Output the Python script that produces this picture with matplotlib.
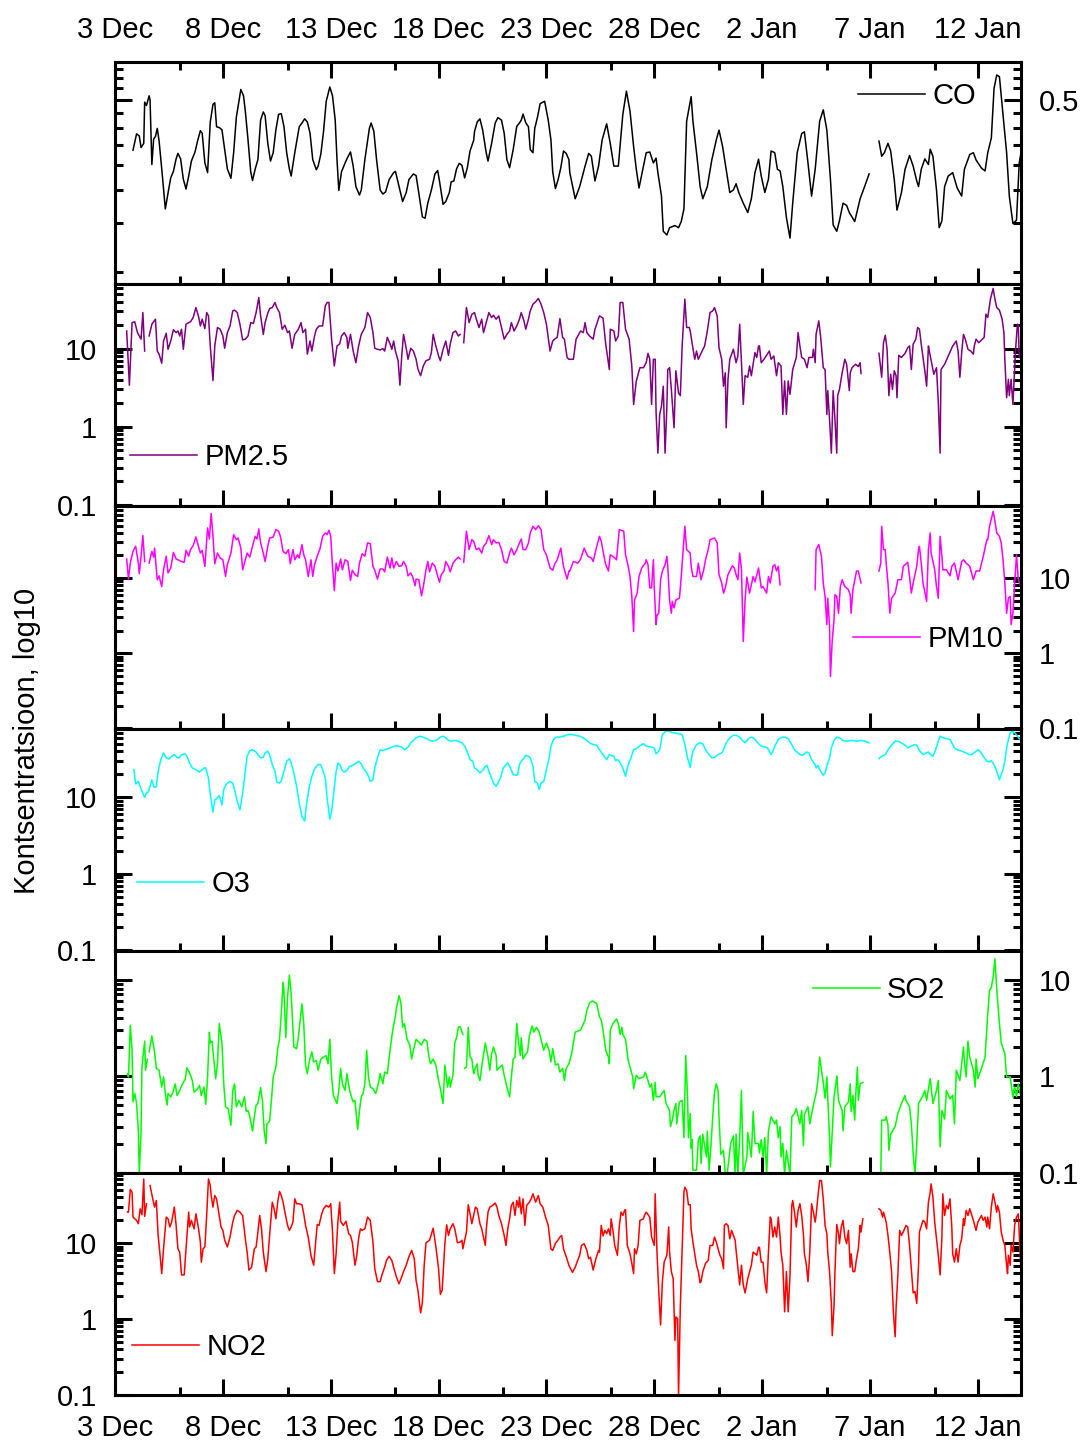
import numpy as np
import matplotlib
matplotlib.use('Agg')
import matplotlib.pyplot as plt
from matplotlib.ticker import FixedLocator, LogLocator, NullFormatter, FuncFormatter

nan = float('nan')

# x-telg: päevad alates 3. detsembrist 00:00
tick_days = [0, 5, 10, 15, 20, 25, 30, 35, 40]
tick_labels = ['3 Dec', '8 Dec', '13 Dec', '18 Dec', '23 Dec', '28 Dec', '2 Jan', '7 Jan', '12 Jan']
minor_days = [3, 8, 13, 18, 23, 28, 33, 38]

# andmed: (tund alates algusest, kontsentratsioon)
co = [(20,.312),(24,.364),(27,.357),(29,.32),(32,.333),(33,.49),(35,.475),(38,.52),(39,.5),(41,.273),
      (43,.347),(45,.355),(47,.383),(49,.342),(52,.262),(56,.18),(59,.209),(62,.241),(65,.256),(68,.288),
      (70,.303),(73,.288),(76,.238),(79,.217),(82,.245),(85,.282),(89,.307),(92,.342),(95,.375),(97,.366),
      (100,.277),(103,.253),(106,.407),(109,.48),(111,.487),(113,.389),(116,.386),(119,.378),(121,.335),(125,.262),
      (129,.24),(132,.305),(135,.425),(140,.552),(143,.52),(145,.45),(148,.344),(151,.255),(153,.235),(156,.262),
      (159,.286),(162,.414),(165,.447),(167,.432),(170,.333),(173,.282),(176,.305),(179,.378),(182,.437),(185,.44),
      (188,.389),(191,.305),(194,.262),(196,.245),(200,.305),(205,.389),(208,.403),(211,.419),(214,.407),(217,.366),
      (220,.286),(224,.26),(226,.269),(229,.301),(232,.372),(235,.494),(239,.565),(242,.52),(245,.414),(247,.286),
      (249,.214),(252,.255),(256,.277),(259,.293),(262,.307),(265,.269),(268,.222),(272,.205),(274,.215),(278,.286),
      (283,.383),(285,.403),(288,.372),(291,.286),(295,.215),(298,.207),(301,.211),(305,.237),(310,.253),(312,.256),
      (316,.222),(320,.193),(324,.21),(327,.237),(332,.25),(335,.246),(338,.209),(342,.167),(345,.165),(348,.19),
      (352,.215),(356,.25),(359,.258),(361,.234),(365,.188),(368,.193),(372,.21),(374,.232),(377,.234),(380,.262),
      (383,.276),(386,.271),(389,.241),(392,.265),(395,.31),(399,.342),(400,.372),(403,.407),(406,.419),(409,.378),
      (413,.305),(415,.282),(419,.333),(423,.403),(426,.424),(430,.414),(433,.366),(436,.286),(439,.265),(443,.314),
      (447,.391),(450,.403),(452,.414),(454,.438),(457,.404),(460,.389),(462,.314),(465,.305),(467,.383),(470,.425),
      (473,.483),(476,.49),(478,.494),(482,.414),(485,.344),(487,.255),(490,.218),(493,.237),(496,.265),(499,.31),
      (502,.303),(505,.286),(506,.253),(512,.198),(517,.222),(523,.269),(527,.303),(530,.295),(534,.234),(538,.269),
      (542,.344),(547,.4),(551,.333),(555,.269),(560,.269),(565,.437),(569,.543),(573,.45),(577,.323),(580,.261),
      (583,.219),(588,.269),(591,.305),(595,.307),(599,.277),(602,.29),(604,.253),(608,.203),(610,.146),(614,.141),
      (617,.151),(623,.154),(627,.151),(630,.16),(633,.18),(636,.41),(641,.516),(643,.41),(647,.305),(651,.222),
      (654,.198),(659,.222),(664,.285),(669,.344),(672,.377),(676,.323),(680,.261),(684,.21),(688,.215),(691,.228),
      (694,.21),(699,.19),(704,.174),(708,.198),(712,.253),(716,.287),(719,.245),(723,.21),(727,.238),(730,.31),
      (734,.305),(737,.261),(740,.257),(743,.222),(747,.166),(751,.137),(754,.19),(759,.305),(764,.365),(767,.371),
      (771,.277),(775,.203),(779,.261),(784,.41),(788,.456),(792,.377),(796,.237),(799,.155),(803,.146),(806,.161),
      (810,.19),(814,.186),(817,.174),(823,.16),(829,.198),(834,.222),(839,.25),(844,nan),
      (850,.34),(853,.295),(856,.305),(860,.333),(863,.31),(867,.237),(870,.178),(875,.21),(879,.261),(884,.297),
      (888,.269),(892,.234),(894,.222),(897,.261),(901,.288),(905,.273),(907,.315),(910,.295),(914,.215),(917,.151),
      (920,.161),(923,.222),(927,.245),(932,.253),(937,.219),(942,.203),(945,.261),(951,.3),(955,.305),(958,.285),
      (964,.264),(968,.257),(971,.305),(975,.35),(978,.557),(981,.632),(984,.622),(988,.436),(992,.305),(995,.203),
      (999,.157),(1003,.162),(1006,.277),(1008,.305)]

pm25 = [(13,16.8),(16,3.4),(19,21.5),(22,22),(25,16),(27,14.5),(29,13.2),(31,28.9),(33,9.3),(35,nan),
        (38,14.5),(41,20.5),(45,23.8),(47,9.3),(49,8.5),(52,6.5),(54,12.5),(57,15.7),(59,9.8),(62,12.5),
        (65,17.4),(68,16),(70,16.8),(72,14.5),(74,17.7),(76,9.8),(79,20.5),(82,21.5),(84,22),(87,25),
        (90,33.5),(93,25.6),(95,19.5),(97,23.8),(100,18),(102,28.9),(104,26.2),(106,10.8),(109,3.9),(111,10.8),
        (114,18.6),(117,17.7),(120,14.5),(122,10.1),(125,16),(128,19.5),(131,30.4),(133,31),(136,28.9),(139,20.5),
        (142,12.9),(145,13.2),(148,14.5),(151,21.5),(154,21),(157,28.9),(160,45),(162,26.2),(165,15.2),(167,21.5),
        (170,28.4),(172,32.5),(175,33.5),(178,38.9),(180,33.5),(183,28.9),(186,17.7),(189,19.9),(192,16),(194,16.8),
        (197,10.1),(200,15.2),(204,17.7),(207,21.5),(209,16),(212,17.7),(214,8.5),(217,12.5),(219,9.3),(222,14.5),
        (224,17.7),(227,19.5),(231,19.5),(234,35.2),(236,38.9),(238,38.9),(241,13.2),(244,6),(247,10.8),(250,11.5),
        (252,14.5),(255,16),(258,13.9),(259,10.1),(262,15.2),(265,9.3),(268,6.6),(271,10.8),(274,15.2),(278,18.6),
        (281,28.9),(284,25),(287,16),(289,10.1),(292,9.8),(295,9.6),(298,10),(300,9.3),(303,13.9),(306,11.5),
        (308,9.8),(310,12.5),(312,9.3),(315,7),(317,3.4),(319,8),(321,15.2),(324,10.1),(326,7.3),(329,10.1),
        (332,9.3),(335,7.3),(337,5.5),(340,4.5),(343,6),(346,7),(350,7.3),(352,8.9),(354,15.2),(357,10.8),
        (360,8.05),(362,7),(365,9.8),(368,12.5),(371,8.2),(373,11.5),(376,16),(379,16.8),(382,14.5),(384,15.2),
        (386,nan),
        (388,11.9),(391,33.5),(394,21.5),(397,27.4),(400,28.9),(402,23.8),(405,18.6),(408,23.8),(410,16),(413,21.5),
        (416,28.9),(419,25),(421,26.7),(424,23.8),(427,26.2),(430,18.6),(433,13.2),(436,15.2),(439,16.8),(441,21.5),
        (444,16.8),(447,19.5),(450,23.8),(452,28.9),(455,22.6),(457,17.7),(460,23.8),(462,30.4),(465,37),(468,39.7),
        (471,43.8),(474,37),(477,28.9),(480,20.5),(484,9.3),(487,12.5),(489,13.2),(492,13.9),(495,24.2),(498,13.9),
        (500,13.2),(503,7.7),(505,7.3),(506,7.3),(510,7.3),(513,13.2),(518,16.8),(521,16),(523,21.5),(525,16),
        (528,14.5),(532,13.2),(534,17.7),(539,26.2),(543,24.5),(546,11.3),(550,5.4),(551,17.7),(555,16.8),(557,12.5),
        (560,14.5),(562,38.9),(565,38.9),(568,17.7),(572,13.2),(575,6),(577,1.93),(580,3.85),(584,5.7),(588,5.7),
        (591,6.6),(593,8.7),(595,7.3),(597,1.93),(599,7.3),(601,7.3),(602,1.51),(604,0.46),(606,1.44),(608,1.84),
        (610,3.3),(612,0.46),(614,1.84),(615,5.4),(617,5.7),(619,3.0),(622,0.97),(624,5.2),(627,2.7),(629,2.5),
        (631,10.8),(634,42.9),(636,18.6),(639,18.6),(640,16.8),(642,11.9),(645,7.3),(647,9.3),(649,7.3),(652,8.7),
        (656,10.8),(659,16.8),(662,28.9),(665,30.4),(667,33.5),(670,26.2),(672,10.3),(675,7.3),(677,3.3),(679,4.9),
        (680,0.97),(682,4.05),(684,7.3),(688,9.8),(691,6.6),(693,8.05),(695,20.5),(697,6.6),(699,1.93),(701,4.5),
        (704,4.3),(706,6),(708,4.5),(712,8.9),(714,7.7),(716,10.8),(717,10.8),(719,6.6),(722,7.3),(727,8.9),
        (728,9.3),(730,7.3),(733,8.05),(736,4.5),(738,6.6),(741,6),(743,1.44),(745,3.85),(747,1.44),(749,3.85),
        (751,2.6),(754,5.4),(758,7.7),(760,16),(762,10.8),(764,7.7),(767,7.3),(770,5.7),(772,7.7),(776,7.7),
        (777,9.8),(779,6.6),(780,15.2),(783,22.6),(785,14.5),(788,5.7),(790,5.4),(792,1.44),(793,2.9),(795,1.24),
        (797,0.46),(799,2.9),(801,1.24),(803,0.46),(804,2.5),(806,3.0),(809,4.9),(812,7.3),(814,6.3),(817,2.9),
        (818,4.9),(820,5.7),(824,6.3),(827,5.9),(829,6.6),(830,4.8),(840,nan),
        (850,8.7),(853,4.3),(855,11.9),(857,14.8),(859,9.8),(861,2.5),(863,4.7),(865,3.0),(867,5.2),(869,4.5),
        (870,2.35),(872,8.2),(875,7.7),(879,8.7),(882,10.3),(884,10.8),(886,5.4),(888,11.4),(891,13.2),(893,18.6),
        (895,17.7),(897,11.4),(901,5.2),(903,3.3),(905,10.8),(906,9.3),(911,4.7),(914,5.7),(916,2.04),(918,0.46),
        (919,5.4),(923,6.3),(928,8.5),(932,10.8),(936,12.5),(938,9.3),(940,4.3),(942,8.9),(944,15.2),(946,13.2),
        (949,9.8),(952,9.3),(955,8.5),(956,10.8),(958,13.2),(961,11.9),(967,13.9),(969,27.6),(971,25),(974,42.9),
        (977,58.8),(979,42.9),(981,33.5),(984,31),(987,23.8),(989,16),(990,7.3),(992,2.35),(994,4.05),(995,2.5),
        (997,4.05),(999,1.93),(1002,9.8),(1004,20.5),(1005,19.5),(1006,8.05),(1008,7.3)]

pm10 = [(13,17.9),(15,9.7),(17,15.8),(20,22.6),(23,26.4),(26,15.8),(27,11.4),(29,19.5),(31,36.7),(33,16.6),(35,nan),
        (38,15.8),(41,22.6),(43,19),(44,25),(47,9.5),(49,10.7),(52,7.7),(54,12.9),(57,19.5),(59,11.7),
        (62,13.6),(65,21.9),(68,17.9),(70,17.5),(74,16.6),(77,16.2),(79,23.4),(82,19.5),(84,23.9),(87,27),
        (90,35.2),(92,28.7),(95,21.5),(97,23.4),(100,14.3),(103,46.4),(105,33.1),(107,72),(109,35.9),(111,15.5),
        (114,21.5),(117,18.5),(120,17.5),(123,10.5),(125,15.1),(129,21.5),(132,37.8),(135,32.4),(137,34.1),(140,25),
        (142,12.9),(145,17.5),(147,21.5),(150,19),(152,23.9),(156,35.9),(158,33.1),(160,45),(162,29.3),(165,21.5),
        (167,16.6),(170,26.4),(172,34.1),(176,35.2),(179,44.1),(182,42),(184,35.9),(187,22.6),(190,21.1),(193,23.9),
        (195,15.5),(198,23.9),(200,17.5),(203,20.4),(205,18.5),(208,27.9),(210,20.4),(212,17.5),(215,10.5),(218,17.5),
        (220,10.5),(222,15.1),(225,19.5),(228,24.4),(231,35.9),(234,39.8),(236,37.8),(238,43.2),(240,35.9),(242,14.3),
        (244,6.8),(246,15.8),(248,12.4),(251,17.9),(253,12.9),(256,17.5),(259,16.6),(262,9.3),(264,12.7),(267,11.1),
        (270,10.5),(272,15.8),(275,21.1),(278,19.5),(281,29.3),(284,28.7),(287,14.3),(289,12.7),(292,9.7),(295,13.2),
        (298,13.2),(300,12.1),(303,19),(306,13.6),(308,18.5),(310,13.6),(313,16.6),(316,14.3),(319,14.6),(321,16.6),
        (324,14.3),(326,10.7),(329,11.7),(331,10.5),(334,7.9),(335,9.7),(338,9.5),(341,5.8),(343,7.6),(346,12.9),
        (348,16.6),(350,12.1),(353,15.8),(356,14.3),(358,11.7),(361,8.8),(363,11.1),(366,12.4),(368,16.6),(371,14.3),
        (373,12.1),(376,15.8),(379,17.5),(382,19),(384,17.9),(386,nan),
        (388,16.2),(391,42),(394,23.9),(397,32.4),(399,30.9),(402,23.9),(405,25),(408,21.5),(410,26.4),(413,29.3),
        (416,36.7),(419,27.9),(421,32.4),(424,29.3),(427,29.8),(430,23.9),(433,16.6),(436,15.8),(439,21.5),(441,25),
        (444,20.4),(447,23.9),(450,29.3),(452,33.1),(454,23.9),(457,23.9),(460,29.3),(462,39.8),(465,48.8),(468,44.1),
        (471,49.8),(474,44.1),(477,23.9),(480,20.4),(484,13.6),(487,12.7),(489,15.1),(492,17.5),(496,25),(499,14.3),
        (500,12.9),(503,9.7),(505,12.4),(506,12.4),(510,16.6),(515,15.8),(518,17.9),(522,25),(526,19.5),(530,18.5),
        (532,16.6),(536,26.4),(539,35.9),(541,30.9),(544,19.5),(546,15.1),(549,12.4),(551,20.4),(555,19),(558,17.5),
        (561,44.1),(566,42),(568,20.4),(571,14.3),(573,10.5),(575,5.7),(577,1.94),(578,5.1),(581,6.3),(583,10.5),
        (586,13.6),(590,15.8),(591,17.5),(593,15.1),(595,7.4),(597,7.4),(599,17.5),(600,7.4),(602,2.4),(603,3.2),
        (605,3.4),(607,9.5),(609,12.4),(612,15.1),(614,19.5),(615,14.3),(617,5.1),(619,3.4),(620,4.9),(622,4.0),
        (624,5.1),(628,5.4),(630,10.5),(634,48.8),(636,23.9),(640,21.5),(641,14.3),(643,10.5),(647,10.5),(649,15.8),
        (652,9.5),(655,12.9),(657,17.5),(660,23.9),(662,32.4),(667,34.1),(670,29.3),(672,11.1),(675,8.6),(677,6.3),
        (679,7.4),(682,11.1),(687,14.6),(689,13.6),(691,11.1),(693,9.5),(695,21.5),(697,12.9),(699,1.43),(701,5.1),
        (703,10.3),(706,6.3),(710,10.5),(712,8.9),(716,13.6),(719,7.4),(721,7.7),(725,6.3),(727,10.5),(729,8.6),
        (732,14.3),(734,15.1),(736,12.4),(738,14.3),(740,8.1),(760,nan),
        (779,7.0),(780,23.9),(783,27.9),(786,19.5),(788,8.6),(790,5.7),(792,2.4),(793,5.4),(795,2.3),(796,0.49),
        (798,1.5),(800,2.8),(801,6.0),(803,5.7),(805,3.4),(807,7.7),(809,9.5),(812,7.7),(816,7.0),(818,6.0),
        (819,3.4),(821,7.0),(825,12.4),(827,12.4),(830,8.6),(840,nan),
        (850,12.4),(852,15.8),(853,48.8),(855,23.9),(857,23.9),(858,15.8),(860,8.6),(862,3.4),(864,5.4),(868,6.3),
        (871,9.5),(875,9.5),(877,14.3),(882,16.2),(884,10.5),(886,6.3),(888,8.6),(892,14.3),(894,23.9),(895,26.4),
        (897,15.8),(899,8.6),(903,4.9),(905,23.9),(907,39.8),(908,21.5),(912,12.9),(914,7.7),(916,5.4),(918,35.9),
        (920,19.5),(921,12.9),(925,12.9),(929,10.7),(931,14.3),(934,15.8),(938,9.5),(942,16.6),(944,17.5),(947,15.8),
        (951,14.3),(955,9.5),(958,12.4),(962,12.4),(966,19.5),(970,32.4),(971,32.4),(973,48.8),(977,77),(979,57),
        (981,39.8),(984,35.9),(986,29.3),(988,17.5),(990,8.6),(992,3.4),(994,5.4),(996,5.7),(997,2.4),(999,3.4),
        (1001,8.6),(1003,20.4),(1005,9.5),(1008,7.7)]

o3 = [(21,23.1),(23,15),(26,16.2),(28,14),(30,12),(33,10),(35,11.4),(37,11.8),(39,14),(41,17),
      (43,13.7),(46,13.7),(48,22),(51,31.3),(54,38.3),(57,32.9),(60,31.8),(63,34.6),(66,36.4),(69,33.5),
      (71,32.9),(74,36.4),(78,37.2),(80,34.6),(83,28.3),(86,24.3),(90,23.1),(94,21.5),(96,22.5),(99,24.3),
      (101,24.3),(104,17.9),(106,11),(109,6.4),(111,9.3),(113,9.6),(116,10.6),(119,8),(121,12.7),(124,15),
      (128,16.2),(131,15.4),(133,12.7),(136,8.9),(139,6.9),(142,11.4),(145,22),(147,34.6),(150,41.1),(153,42.1),
      (157,39.4),(159,36.4),(162,32.9),(165,33.5),(167,38.3),(170,40.3),(172,36.4),(175,26.9),(178,22),(180,15.9),
      (183,15.4),(185,16.5),(188,22),(191,29.8),(194,32.2),(196,28.3),(199,20.9),(202,14),(205,8.4),(208,5.6),
      (211,4.9),(213,8),(216,13.3),(219,18.9),(222,23.8),(226,26.9),(229,26.9),(231,23.1),(234,17.9),(236,9.8),
      (239,5.2),(241,6.5),(244,13.3),(246,22),(248,28.3),(250,26.9),(253,22.5),(255,21.5),(258,22.5),(261,25.6),
      (264,26.1),(267,27.5),(271,29.8),(274,27.5),(276,24.3),(279,22),(282,18.9),(284,16.2),(287,17.1),(289,24.3),
      (292,32.9),(295,42.1),(298,41.1),(300,42.1),(304,43.6),(308,45.6),(311,47.1),(315,47.1),(319,45.6),(322,42.1),
      (326,45.6),(329,51.8),(332,55.8),(335,60.4),(339,63.5),(343,61.6),(347,59),(350,55.8),(354,54.6),(357,55.8),
      (360,59),(362,61.6),(365,63.5),(368,60.4),(371,55.8),(374,54.6),(378,55.8),(382,54.6),(386,52),(389,47.1),
      (391,42.1),(393,36.4),(395,31.3),(398,29.8),(400,24.3),(403,23.1),(406,20.9),(409,22.5),(412,25.6),(414,26.3),
      (416,22),(419,17.9),(421,15.4),(424,14),(426,15.4),(429,18.3),(432,24.3),(435,26.9),(437,28.3),(440,24.3),
      (443,19.9),(446,19.5),(448,19.9),(450,26.9),(452,29.8),(455,32.9),(457,35.6),(460,34.6),(462,32.9),(465,25.6),
      (467,16.2),(470,15.4),(472,12.7),(474,15.4),(477,16.2),(480,23.1),(483,32.9),(485,47.1),(488,57.4),(491,61.6),
      (495,61.6),(499,63.5),(502,65.3),(505,66.8),(508,66.8),(512,65.3),(517,63.5),(521,60.4),(525,55.8),(528,51.8),
      (532,49.3),(536,48.3),(539,42.1),(543,36.4),(547,31.3),(550,36.4),(552,35.6),(555,34.6),(557,30.3),(559,31.3),
      (561,29.8),(563,26.9),(565,24.3),(568,18.9),(571,26.9),(574,32.9),(577,42.1),(580,43.6),(585,48.3),(588,50.5),
      (591,47.1),(597,45.6),(600,44.6),(602,37.2),(604,39.4),(606,42.1),(609,66.8),(613,73.8),(615,73.8),(621,70.4),
      (627,68.4),(631,66.8),(634,49.3),(637,32.9),(640,24.8),(641,31.3),(643,40.3),(647,49.3),(651,51.8),(654,50.5),
      (657,42.1),(661,36.4),(664,32.9),(667,33.5),(671,36.4),(675,38.3),(677,42.1),(680,51.8),(684,60.4),(688,65.3),
      (691,65.3),(695,61.6),(698,55.8),(701,51.8),(703,55.8),(706,60.4),(709,61.6),(712,57.4),(716,50.5),(719,47.1),
      (723,45.6),(726,44.6),(729,38.3),(730,36.4),(732,40.3),(735,49.3),(738,57.4),(742,61.6),(745,61.6),(749,59),
      (753,49.3),(756,42.1),(760,38.3),(762,36.4),(765,35.6),(767,37.2),(769,39.4),(772,38.3),(775,31.3),(779,26.9),
      (780,24.3),(782,26.1),(785,22),(788,19.5),(790,20.9),(792,25.6),(795,32.9),(797,44.6),(800,55.8),(803,61.6),
      (806,60.4),(810,55.8),(814,54.6),(819,55.8),(825,54.6),(830,55.8),(834,54.6),(839,51.8),(845,nan),
      (850,32.2),(853,34.6),(857,36.4),(860,42.1),(864,48.3),(868,54.6),(871,54.6),(875,51.8),(879,48.3),(882,44.6),
      (886,47.1),(890,49.3),(892,48.3),(895,41.1),(899,36.4),(903,38.3),(905,39.4),(907,36.4),(910,34.6),(913,42.1),
      (916,54.6),(918,63.5),(921,60.4),(925,59),(929,57.4),(932,49.3),(934,44.6),(937,42.1),(940,41.1),(944,39.4),
      (947,38.3),(950,36.4),(953,36.4),(957,39.4),(960,42.1),(963,39.4),(966,34.6),(970,29.8),(973,29.2),(975,30.3),
      (978,26.9),(981,22),(984,17.1),(986,19.9),(988,23.1),(990,29.8),(992,44.6),(994,57.4),(996,70.4),(998,73.8),
      (1001,70.4),(1004,63.5),(1007,57.4),(1008,53.4)]

so2 = [(14,1.06),(15,0.98),(17,3.35),(19,1.85),(20,0.54),(22,0.66),(24,0.52),(26,0.27),(27,0.098),(29,0.27),
       (30,1.24),(33,2.3),(34,1.15),(36,1.5),(37,nan),
       (38,1.78),(41,2.6),(44,1.78),(46,1.2),(49,1.15),(52,0.77),(54,0.98),(56,0.66),(58,0.5),(59,0.66),
       (62,0.61),(64,0.66),(67,0.83),(69,0.63),(72,0.71),(75,0.83),(78,0.92),(80,1.22),(83,1.08),(86,0.9),
       (88,0.68),(92,0.74),(94,0.8),(96,0.63),(99,0.77),(101,0.51),(103,0.98),(105,2.85),(106,2.2),(108,2.3),
       (110,1.45),(112,0.94),(114,1.34),(116,3.5),(119,2.2),(121,0.83),(123,0.48),(126,0.46),(129,0.31),(131,0.71),
       (133,0.83),(135,0.48),(138,0.56),(141,0.48),(144,0.61),(146,0.43),(148,0.44),(150,0.38),(153,0.27),(155,0.38),
       (157,0.5),(159,0.52),(162,0.76),(164,0.56),(166,0.27),(168,0.2),(169,0.32),(172,0.34),(174,0.56),(176,0.98),
       (179,1.24),(181,1.92),(183,2.4),(185,4.4),(187,9.3),(188,7.7),(190,2.5),(192,6.6),(194,11.1),(196,7.1),
       (199,2.0),(202,1.92),(204,2.5),(206,3.8),(208,5.6),(210,3.5),(212,1.3),(214,1.06),(216,1.4),(219,1.78),
       (221,1.4),(224,1.45),(226,1.15),(229,1.5),(232,1.57),(235,1.63),(237,1.34),(239,2.4),(241,0.98),(243,0.63),
       (247,0.52),(249,0.71),(251,1.2),(253,0.83),(256,0.71),(258,1.06),(261,0.71),(263,0.61),(265,0.54),(267,0.56),
       (270,0.28),(272,0.44),(274,0.61),(276,0.66),(278,0.83),(280,1.85),(282,0.98),(284,0.77),(287,0.74),(290,0.66),
       (293,0.83),(295,1.06),(298,0.83),(300,1.1),(303,1.06),(306,1.85),(309,3.0),(312,4.2),(313,5.0),(316,6.8),
       (318,5.8),(320,3.2),(322,3.5),(325,2.4),(328,2.1),(330,1.5),(332,1.85),(335,2.4),(338,2.25),(341,2.1),
       (344,2.4),(347,2.3),(349,1.63),(351,1.34),(354,1.5),(357,1.3),(360,0.9),(362,0.74),(365,0.52),(367,1.3),
       (370,0.77),(372,0.98),(373,0.77),(376,1.02),(378,2.2),(380,2.5),(382,3.2),(384,3.25),(387,2.7),(388,nan),
       (389,1.2),(391,1.24),(393,3.2),(395,1.57),(397,1.5),(399,1.06),(400,1.15),(403,1.34),(404,1.02),(406,0.9),
       (409,1.45),(412,2.2),(415,1.57),(417,1.15),(419,1.7),(421,2.0),(424,1.63),(425,1.15),(428,1.24),(431,1.3),
       (433,1.02),(436,0.77),(439,0.61),(441,0.98),(443,1.5),(445,1.57),(447,3.5),(449,2.2),(451,1.63),(452,2.5),
       (454,1.5),(456,1.63),(459,1.78),(461,2.6),(464,3.3),(466,2.85),(469,3.2),(472,2.85),(474,2.4),(477,1.85),
       (480,2.2),(483,1.85),(485,1.4),(487,1.92),(490,1.3),(493,1.34),(495,1.1),(498,1.2),(500,0.9),(502,1.2),
       (505,1.34),(508,1.7),(512,2.85),(518,3.0),(523,3.8),(525,4.8),(528,5.7),(531,6.0),(534,5.8),(536,5.6),
       (539,4.1),(541,3.8),(543,3.0),(546,1.85),(549,1.57),(550,1.34),(551,3.0),(554,3.5),(558,3.9),(560,3.5),
       (562,2.7),(564,3.2),(565,2.7),(568,2.4),(571,1.45),(574,1.15),(576,0.98),(577,0.74),(580,1.02),(583,0.94),
       (588,0.98),(590,1.1),(593,0.9),(595,0.77),(597,0.83),(599,0.56),(601,0.86),(602,0.61),(606,0.61),(611,0.71),
       (613,0.52),(617,0.44),(618,0.3),(620,0.35),(622,0.44),(624,0.52),(625,0.32),(628,0.54),(631,0.56),(633,0.23),
       (635,1.63),(637,0.61),(638,0.23),(640,0.41),(641,0.18),(642,0.22),(643,0.106),(647,0.106),(649,0.22),(651,0.24),
       (652,0.124),(654,0.25),(658,0.145),(659,0.27),(661,0.106),(663,0.185),(665,0.38),(667,0.68),(669,0.83),(671,0.71),
       (672,0.38),(674,0.155),(677,0.17),(679,0.095),(681,0.095),(685,0.2),(688,0.24),(690,0.095),(691,0.25),(693,0.095),
       (695,0.23),(697,0.71),(699,0.095),(703,0.145),(704,0.26),(708,0.145),(710,0.43),(712,0.2),(716,0.2),(717,0.16),
       (719,0.22),(721,0.145),(723,0.23),(725,0.095),(727,0.27),(730,0.38),(734,0.32),(736,0.35),(738,0.23),(740,0.3),
       (741,0.145),(743,0.2),(745,0.095),(747,0.17),(751,0.095),(753,0.38),(756,0.41),(758,0.46),(762,0.32),(764,0.44),
       (766,0.19),(767,0.4),(771,0.48),(773,0.32),(777,0.5),(780,0.66),(782,0.9),(784,1.57),(786,1.15),(788,0.86),
       (790,0.59),(792,0.98),(793,0.59),(795,0.23),(796,0.115),(798,0.27),(800,0.61),(802,0.83),(803,1.0),(805,0.56),
       (809,0.44),(810,0.27),(812,0.48),(816,0.54),(818,0.83),(819,0.43),(821,0.63),(823,0.35),(824,0.61),(826,1.24),
       (827,0.56),(829,0.83),(832,0.86),(840,nan),
       (852,0.095),(853,0.35),(857,0.35),(858,0.38),(860,0.31),(861,0.17),(863,0.25),(868,0.3),(871,0.41),(875,0.52),
       (879,0.63),(880,0.56),(884,0.48),(886,0.32),(888,0.16),(890,0.095),(892,0.2),(894,0.52),(899,0.63),(901,0.71),
       (903,0.56),(905,0.74),(907,0.94),(910,0.52),(914,0.71),(916,0.9),(918,0.185),(920,0.44),(923,0.36),(925,0.71),
       (929,0.58),(932,0.63),(934,0.32),(936,1.15),(940,0.9),(942,1.34),(944,2.0),(945,1.45),(947,0.98),(949,2.3),
       (951,1.57),(955,1.15),(957,0.77),(958,1.5),(960,0.94),(964,1.2),(968,1.57),(970,3.2),(971,4.4),(973,7.7),
       (975,8.3),(977,10.6),(979,16.4),(981,8.0),(982,6.1),(984,3.5),(986,2.2),(990,1.7),(992,0.98),(996,0.98),
       (999,0.61),(1001,0.77),(1003,0.61),(1005,0.83),(1008,0.61)]

no2 = [(14,25.6),(15,25.6),(17,50.9),(19,46.9),(20,22),(22,20.9),(24,19.9),(26,18),(28,28.3),(30,23.6),
       (32,70.1),(33,22.5),(35,33),(37,nan),
       (39,57.4),(42,38.3),(44,29.8),(46,36.4),(48,12.6),(50,7.2),(52,3.95),(54,8.4),(57,22),(59,20.9),
       (61,16.3),(63,18.9),(66,29.8),(68,17.1),(70,8.4),(72,7.6),(74,3.8),(77,3.8),(79,8.4),(82,25.6),
       (83,16.3),(85,19.9),(88,15.4),(90,24.3),(93,15.4),(95,10.3),(96,5.6),(98,8.4),(100,8.9),(102,23.1),
       (104,70.1),(106,57.4),(107,42.4),(109,29.8),(111,42.4),(113,38.3),(115,27),(118,16.3),(120,14.7),(122,11),
       (125,8.9),(128,12),(131,18.9),(133,23.1),(136,27),(139,25.6),(142,23.1),(145,11.4),(147,7.6),(149,4.4),
       (152,4.8),(155,8.4),(157,8.9),(159,14),(161,23.1),(163,15.4),(165,7.6),(168,4.2),(170,6.2),(172,12.6),
       (175,34.6),(177,28.3),(179,20.9),(181,34.6),(183,47.9),(185,42.4),(187,34.6),(189,25.6),(192,17.1),(194,14.7),
       (196,16.3),(198,18.9),(200,38.3),(202,33),(205,33),(208,32),(210,24.3),(212,17.1),(215,12),(218,6.9),
       (221,5.1),(222,6.9),(225,17.6),(227,17.1),(230,24.3),(232,28.3),(235,31.3),(238,29.8),(240,33),(242,14),
       (244,3.95),(246,7.2),(248,19.4),(250,34.6),(251,19.4),(254,17.1),(257,19.4),(260,13.3),(262,12.6),(264,10.3),
       (267,5.1),(269,6.9),(271,11.4),(273,15.4),(275,14.7),(278,15.4),(281,22),(284,19.9),(287,10.3),(289,4.6),
       (292,3.1),(295,3.1),(297,3.8),(300,4.8),(302,5.9),(305,6.7),(308,5.9),(310,4.8),(313,3.6),(316,2.9),
       (319,3.6),(321,4.2),(324,5.1),(327,6.6),(330,8),(333,6.2),(335,3.2),(337,2.4),(340,1.2),(342,1.65),
       (344,5.1),(346,10.1),(348,10.5),(350,10.9),(352,13.1),(354,15.7),(357,8.9),(360,4.6),(362,2.1),(364,2.4),
       (366,6.2),(367,9.8),(369,17.4),(371,12.6),(373,15.4),(376,18),(378,15.4),(381,10.1),(384,10.3),(386,10.9),
       (387,8.4),(391,14),(393,32),(395,24.3),(397,18),(399,23.1),(401,29.8),(403,28.3),(406,18),(408,15.4),
       (410,12),(412,9.3),(413,14.7),(415,25.6),(417,29.8),(420,31.3),(423,33.7),(425,29.8),(427,23.1),(430,18),
       (433,12.6),(435,9.3),(437,15.4),(439,20.9),(441,31.3),(443,34.6),(445,23.1),(447,36.4),(449,29.8),(450,40.4),
       (452,24.3),(454,38.3),(456,17.1),(458,31.3),(461,34.6),(463,38.3),(465,44.6),(468,34.6),(471,42.4),(473,33),
       (476,29.8),(479,22),(482,17.1),(485,8.4),(487,8),(490,9.9),(493,11),(495,12),(497,12.6),(499,8.4),
       (502,6.6),(505,5.1),(506,4.8),(509,4.1),(512,4.8),(514,5.6),(517,6.9),(519,9.3),(522,9.8),(525,8),
       (527,6.2),(529,6.5),(532,4.4),(535,6.2),(538,8),(539,7.6),(541,17.1),(543,12.4),(545,14.7),(547,13.3),
       (549,15.4),(551,12.6),(552,20.9),(554,14.7),(556,9.3),(559,6.9),(561,16.3),(563,25.6),(565,23.1),(567,27),
       (568,27.6),(570,9.3),(573,7.2),(575,5.4),(577,3.95),(578,8.4),(580,7.2),(582,9.3),(584,19.9),(588,20.9),
       (589,23.1),(591,25.6),(595,22),(597,12),(600,9.3),(601,44.6),(603,7.6),(605,2.3),(607,0.83),(609,3.1),
       (611,5.6),(614,6.9),(616,16.3),(617,7.6),(619,4.2),(621,3.4),(623,0.52),(624,1.06),(626,1.0),(627,0.099),
       (629,1.51),(631,8.4),(633,46.9),(634,54.6),(636,49.4),(638,32),(640,32),(641,15.4),(643,10.3),(645,7.2),
       (647,5.1),(649,4.2),(651,3.0),(652,3.1),(654,4.2),(657,5.4),(660,5.9),(662,9.3),(665,9.3),(667,12),
       (669,10.3),(673,6.9),(675,6.2),(677,4.6),(678,17.1),(680,18),(682,17.1),(684,11.4),(686,14.7),(690,10.9),
       (691,8),(693,4.8),(695,2.8),(697,5.1),(699,2.8),(701,2.2),(704,3.4),(708,5.1),(710,7.6),(714,6.9),
       (716,8.8),(717,8.8),(719,5.6),(721,5.6),(723,3.1),(725,2.2),(727,7.6),(729,22),(730,20.9),(732,12),
       (734,16.3),(736,12),(738,22),(740,12),(741,7.6),(743,5.1),(745,1.24),(747,4.2),(749,1.24),(751,3.8),
       (753,31.3),(754,36.4),(756,25.6),(758,16.3),(760,27),(762,33),(764,23.1),(766,12.6),(767,7.2),(769,5.4),
       (771,3.1),(773,7.6),(775,33),(777,25.6),(779,18.9),(780,23.1),(782,40.4),(784,66.7),(786,66.7),(788,38.3),
       (790,17.1),(792,13.3),(793,7.6),(795,4.2),(797,1.6),(798,0.6),(800,1.51),(801,4.2),(803,17.6),(805,13.3),
       (806,9.8),(808,16.3),(810,19.9),(812,12),(814,9.8),(816,14.7),(818,4.8),(819,7.2),(821,4.2),(823,4.2),
       (825,6.2),(827,8.4),(829,17.1),(830,14),(832,20.9),(840,nan),
       (850,28.3),(852,27),(854,22),(855,25.6),(858,18.9),(860,12.6),(862,7.6),(864,4.2),(866,1.24),(868,0.58),
       (869,1.37),(871,3.8),(873,14.7),(875,12.6),(877,14),(880,17.1),(882,16.3),(884,9.3),(886,4.6),(888,2.2),
       (890,2.3),(892,1.6),(894,5.1),(895,14),(899,19.9),(901,18.9),(903,15.4),(905,34.6),(907,46.9),(908,60.3),
       (910,40.4),(912,18.9),(914,11.4),(916,6.9),(918,3.8),(920,12),(921,44.6),(923,23.1),(925,31.3),(927,28.3),
       (929,38.3),(931,16.3),(932,7.2),(934,5.6),(936,8.4),(938,5.6),(940,9.3),(942,11.4),(944,20.9),(945,17.1),
       (947,27),(949,23.1),(951,28.3),(955,19.9),(958,14.7),(960,18.9),(964,23.1),(966,19.9),(968,22),(970,16.3),
       (971,22),(973,15.4),(975,29.8),(977,44.6),(979,34.6),(981,25.6),(982,31.3),(984,25.6),(986,14),(988,10.9),
       (990,9.3),(992,5.1),(993,3.95),(994,6.9),(996,5.1),(997,9.3),(999,7.6),(1001,17.6),(1003,22),(1005,24.3),
       (1007,7.6),(1008,4.2)]

plt.rcParams['font.family'] = ['Liberation Sans', 'DejaVu Sans']
plt.rcParams['font.size'] = 21

# nimi, andmed, värv, y-piirid, siltide pool, legendi asukoht
panels = [
    ('CO', co, 'black', (0.0889, 0.714), 'right', (0.820, 0.847)),
    ('PM2.5', pm25, '#800080', (0.096, 66.7), 'left', (0.0166, 0.22)),
    ('PM10', pm10, '#ff00ff', (0.0995, 90), 'right', (0.815, 0.402)),
    ('O3', o3, '#00ffff', (0.098, 80), 'left', (0.0243, 0.301)),
    ('SO2', so2, '#00ff00', (0.0995, 19.9), 'right', (0.770, 0.823)),
    ('NO2', no2, '#ff0000', (0.099, 84.4), 'left', (0.0188, 0.216)),
]

fig = plt.figure(figsize=(10.89, 14.41), dpi=100)
gs = fig.add_gridspec(6, 1, left=115/1089, right=1021/1089,
                      top=1-62/1441, bottom=1-1395/1441, hspace=0)

for i, (name, data, color, ylim, side, legpos) in enumerate(panels):
    ax = fig.add_subplot(gs[i])
    d = np.array(data, dtype=float)
    ax.plot(d[:, 0] / 24, d[:, 1], color=color, lw=1.1, label=name)
    ax.set_yscale('log')
    ax.set_ylim(*ylim)
    ax.set_xlim(0, 42)

    if name == 'CO':
        ax.yaxis.set_major_locator(FixedLocator([0.5]))
        ax.yaxis.set_minor_locator(FixedLocator([0.5 + k * 0.4 / 7 for k in range(-7, 4) if k != 0]))
    else:
        ax.yaxis.set_major_locator(FixedLocator([0.1, 1, 10]))
        ax.yaxis.set_minor_locator(LogLocator(base=10, subs=np.arange(2, 10), numticks=20))
    ax.yaxis.set_major_formatter(FuncFormatter(lambda v, p: '%g' % v))
    ax.yaxis.set_minor_formatter(NullFormatter())

    ax.set_xticks(tick_days)
    ax.set_xticklabels(tick_labels)
    ax.set_xticks(minor_days, minor=True)

    ax.tick_params(axis='both', which='both', direction='in', width=2.2)
    ax.tick_params(axis='x', which='major', length=11.5)
    ax.tick_params(axis='x', which='minor', length=6)
    ax.tick_params(axis='y', which='major', length=12, pad=13)
    ax.tick_params(axis='y', which='minor', length=6)
    ax.tick_params(axis='y', which='both', left=True, right=True,
                   labelleft=(side == 'left'), labelright=(side == 'right'))
    ax.tick_params(axis='x', which='both', bottom=True, top=(i == 0),
                   labelbottom=(i == 5), labeltop=(i == 0))
    if i == 0:
        ax.tick_params(axis='x', which='major', pad=13)
    else:
        ax.tick_params(axis='x', which='major', pad=14)

    for sp in ax.spines.values():
        sp.set_linewidth(2.2)

    ax.legend(loc='center left', bbox_to_anchor=legpos, frameon=False,
              handlelength=2.3, handletextpad=0.25, borderpad=0, borderaxespad=0)

fig.text(27/1089, 1-741/1441, 'Kontsentratsioon, log10', rotation=90,
         va='center', ha='center')

fig.savefig('out.png', dpi=100)
